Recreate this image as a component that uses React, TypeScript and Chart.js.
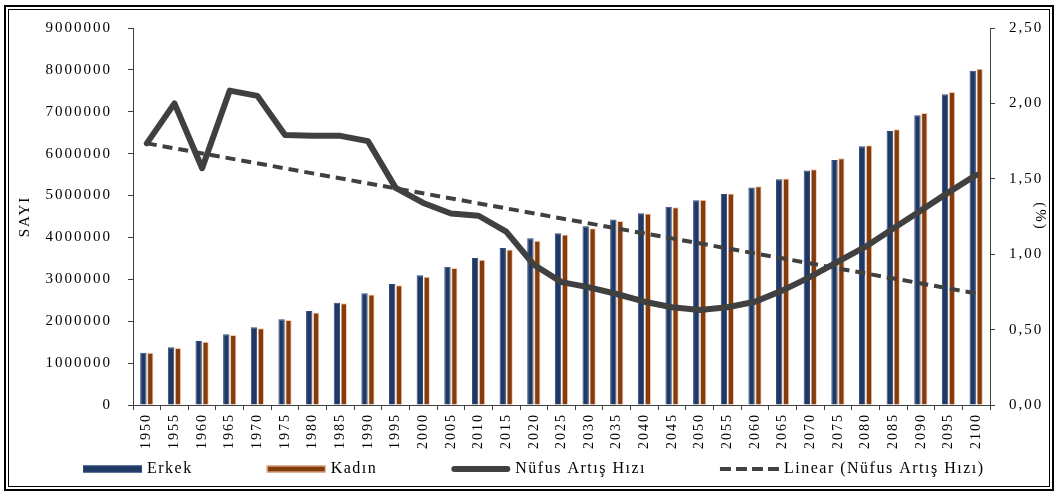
import React, { useEffect, useRef } from 'react';
import { Chart, registerables } from 'chart.js';

Chart.register(...registerables);

const years = [
  '1950', '1955', '1960', '1965', '1970', '1975', '1980', '1985', '1990', '1995',
  '2000', '2005', '2010', '2015', '2020', '2025', '2030', '2035', '2040', '2045',
  '2050', '2055', '2060', '2065', '2070', '2075', '2080', '2085', '2090', '2095', '2100',
];

const erkek = [
  1248000, 1377000, 1527000, 1687000, 1854000, 2045000, 2243000, 2440000, 2670000, 2890000,
  3100000, 3300000, 3510000, 3750000, 3980000, 4100000, 4270000, 4430000, 4580000, 4730000,
  4890000, 5040000, 5190000, 5390000, 5600000, 5850000, 6180000, 6540000, 6920000, 7420000, 7980000,
];

const kadin = [
  1250000, 1360000, 1510000, 1670000, 1830000, 2030000, 2210000, 2430000, 2640000, 2860000,
  3060000, 3270000, 3470000, 3710000, 3920000, 4070000, 4220000, 4390000, 4570000, 4720000,
  4900000, 5050000, 5220000, 5410000, 5630000, 5890000, 6200000, 6580000, 6970000, 7470000, 8030000,
];

const artisHizi = [
  1.735, 2.0, 1.57, 2.085, 2.05, 1.79, 1.786, 1.785, 1.75, 1.44,
  1.34, 1.27, 1.255, 1.15, 0.93, 0.815, 0.78, 0.736, 0.685, 0.648,
  0.63, 0.648, 0.685, 0.76, 0.85, 0.95, 1.05, 1.17, 1.29, 1.41, 1.525,
];

// Linear trend of Nüfus Artış Hızı: value at first and last year
const trendEnds = [1.735, 0.74];

const leftTickLabels = ['0', '1000000', '2000000', '3000000', '4000000', '5000000', '6000000', '7000000', '8000000', '9000000'];
const rightTickLabels = ['0,00', '0,50', '1,00', '1,50', '2,00', '2,50'];

const legendLabels = ['Erkek', 'Kadın', 'Nüfus Artış Hızı', 'Linear (Nüfus Artış Hızı)'];

const FONT = "'Liberation Serif', 'Times New Roman', serif";
const NAVY = '#1F3864';
const BROWN = '#843C0C';
const PEACH = '#F8CBAD';
const GREY = '#404040';

const trendData = years.map((_, i) =>
  i === 0 ? trendEnds[0] : i === years.length - 1 ? trendEnds[1] : null
);

const framePlugin = {
  id: 'frameAndLegend',
  beforeUpdate(chart: any) {
    chart.ctx.letterSpacing = '2px';
  },
  beforeDraw(chart: any) {
    const ctx = chart.ctx;
    const w = chart.width;
    const h = chart.height;
    ctx.save();
    ctx.letterSpacing = '0px';
    ctx.fillStyle = '#ffffff';
    ctx.fillRect(0, 0, w, h);
    ctx.strokeStyle = '#000000';
    ctx.lineWidth = 2;
    ctx.strokeRect(5, 6, w - 10, h - 12);
    ctx.lineWidth = 1;
    ctx.strokeRect(8.5, 9.5, w - 17, h - 19);
    ctx.restore();
    ctx.letterSpacing = '2px';
  },
  afterDraw(chart: any) {
    const ctx = chart.ctx;
    ctx.save();
    ctx.font = `16px ${FONT}`;
    ctx.letterSpacing = '1.5px';
    ctx.textBaseline = 'middle';
    ctx.textAlign = 'left';
    const y = 469;
    let x = 83;
    const symW = 59;
    legendLabels.forEach((label, i) => {
      if (i === 0) {
        ctx.fillStyle = NAVY;
        ctx.fillRect(x, y - 3.5, symW, 7);
        ctx.strokeStyle = '#2E4A7D';
        ctx.lineWidth = 1;
        ctx.strokeRect(x + 0.5, y - 3, symW - 1, 6);
      } else if (i === 1) {
        ctx.fillStyle = BROWN;
        ctx.fillRect(x, y - 3.5, symW, 7);
        ctx.strokeStyle = PEACH;
        ctx.lineWidth = 1;
        ctx.strokeRect(x + 0.5, y - 3, symW - 1, 6);
      } else if (i === 2) {
        ctx.strokeStyle = GREY;
        ctx.lineWidth = 6;
        ctx.lineCap = 'round';
        ctx.setLineDash([]);
        ctx.beginPath();
        ctx.moveTo(x + 3, y);
        ctx.lineTo(x + symW - 3, y);
        ctx.stroke();
      } else {
        ctx.strokeStyle = GREY;
        ctx.lineWidth = 4;
        ctx.lineCap = 'butt';
        ctx.setLineDash([11, 5]);
        ctx.beginPath();
        ctx.moveTo(x, y);
        ctx.lineTo(x + symW, y);
        ctx.stroke();
        ctx.setLineDash([]);
      }
      ctx.fillStyle = '#000000';
      const tx = x + 64;
      ctx.fillText(label, tx, y);
      x = tx + ctx.measureText(label).width + 74;
    });
    ctx.restore();
  },
};

export default function App() {
  const ref = useRef<HTMLCanvasElement>(null);

  useEffect(() => {
    document.body.style.margin = '0';
    const canvas = ref.current;
    if (!canvas) return;
    const chart = new Chart(canvas, {
      type: 'bar',
      data: {
        labels: years,
        datasets: [
          {
            type: 'line',
            label: legendLabels[2],
            data: artisHizi,
            yAxisID: 'y1',
            borderColor: GREY,
            backgroundColor: GREY,
            borderWidth: 6,
            pointRadius: 0,
            tension: 0,
            borderJoinStyle: 'round',
            borderCapStyle: 'round',
            order: 0,
          } as any,
          {
            type: 'line',
            label: legendLabels[3],
            data: trendData,
            yAxisID: 'y1',
            borderColor: GREY,
            backgroundColor: GREY,
            borderWidth: 4,
            borderDash: [10, 6],
            pointRadius: 0,
            spanGaps: true,
            order: 1,
          } as any,
          {
            type: 'bar',
            label: legendLabels[0],
            data: erkek,
            yAxisID: 'y',
            backgroundColor: NAVY,
            borderColor: '#2E4A7D',
            borderWidth: 1,
            categoryPercentage: 0.5,
            barPercentage: 0.92,
            order: 2,
          },
          {
            type: 'bar',
            label: legendLabels[1],
            data: kadin,
            yAxisID: 'y',
            backgroundColor: BROWN,
            borderColor: PEACH,
            borderWidth: 1,
            categoryPercentage: 0.5,
            barPercentage: 0.92,
            order: 2,
          },
        ],
      },
      options: {
        responsive: false,
        animation: false,
        devicePixelRatio: 1,
        layout: { padding: { top: 28, left: 0, right: 0, bottom: 0 } },
        plugins: {
          legend: { display: false },
          tooltip: { enabled: false },
        },
        scales: {
          x: {
            type: 'category',
            offset: true,
            grid: {
              display: true,
              drawOnChartArea: false,
              drawTicks: true,
              tickLength: 5,
              color: GREY,
              offset: true,
            },
            border: { display: true, color: GREY, width: 1 },
            ticks: {
              autoSkip: false,
              maxRotation: 90,
              minRotation: 90,
              padding: 3,
              color: '#000000',
              font: { family: FONT, size: 14 },
            },
            afterFit: (s: any) => {
              s.height = 91;
            },
          },
          y: {
            type: 'linear',
            position: 'left',
            min: 0,
            max: 9000000,
            grid: {
              display: true,
              drawOnChartArea: false,
              drawTicks: true,
              tickLength: 5,
              color: GREY,
            },
            border: { display: true, color: GREY, width: 1 },
            ticks: {
              stepSize: 1000000,
              padding: 16,
              color: '#000000',
              font: { family: FONT, size: 15 },
              callback: (_v: any, i: number) => leftTickLabels[i],
            },
            title: {
              display: true,
              text: 'SAYI',
              color: '#000000',
              font: { family: FONT, size: 15 },
              padding: { top: 16, bottom: 0 },
            },
            afterFit: (s: any) => {
              s.width = 133;
            },
          },
          y1: {
            type: 'linear',
            position: 'right',
            min: 0,
            max: 2.5,
            grid: {
              display: true,
              drawOnChartArea: false,
              drawTicks: true,
              tickLength: 5,
              color: GREY,
            },
            border: { display: true, color: GREY, width: 1 },
            ticks: {
              stepSize: 0.5,
              padding: 14,
              color: '#000000',
              font: { family: FONT, size: 15 },
              callback: (_v: any, i: number) => rightTickLabels[i],
            },
            title: {
              display: true,
              text: '(%)',
              color: '#000000',
              font: { family: FONT, size: 15 },
              padding: { top: 9, bottom: 0 },
            },
            afterFit: (s: any) => {
              s.width = 68;
            },
          },
        },
      } as any,
      plugins: [framePlugin],
    });
    return () => chart.destroy();
  }, []);

  return (
    <div style={{ width: 1058, height: 496, background: '#ffffff' }}>
      <canvas ref={ref} width={1058} height={496} style={{ display: 'block', width: 1058, height: 496 }} />
    </div>
  );
}
